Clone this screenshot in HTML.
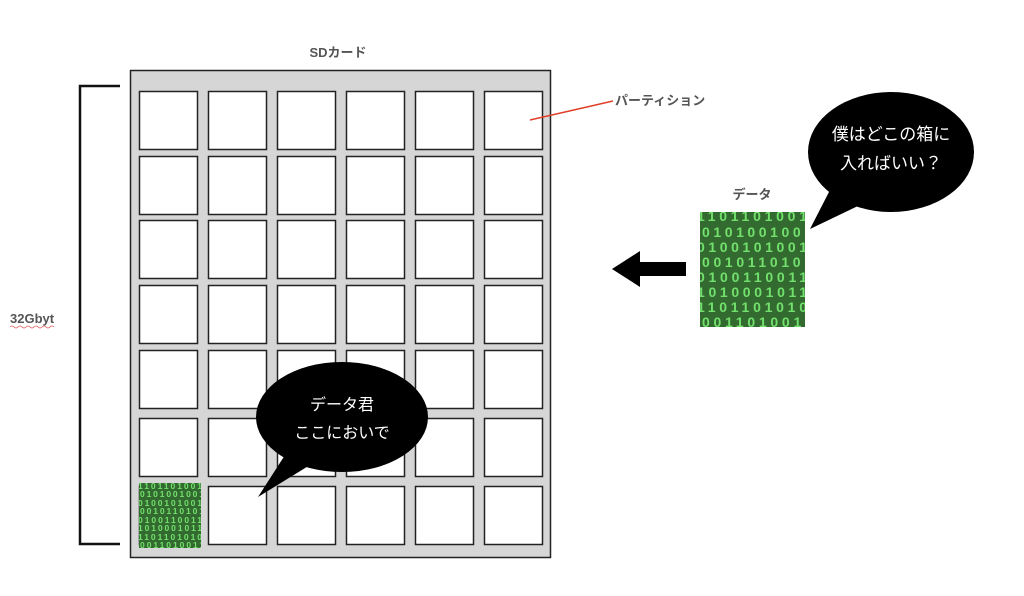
<!DOCTYPE html>
<html><head><meta charset="utf-8"><style>
body{margin:0;background:#fff;}
svg{display:block;font-family:"Liberation Sans","Noto Sans CJK JP",sans-serif;}
</style></head><body>
<svg width="1024" height="596" viewBox="0 0 1024 596">
<defs>
<pattern id="bin" patternUnits="userSpaceOnUse" x="700" y="212" width="105" height="115">
<rect width="105" height="115" fill="#336a30"/>
<g fill="#72e06c" font-family="Liberation Sans,sans-serif" font-weight="bold" font-size="14" lengthAdjust="spacing">
<text x="-3" y="9" textLength="110">1101101001</text>
<text x="2" y="25" textLength="110">0101001001</text>
<text x="-3" y="40" textLength="110">0100101001</text>
<text x="2" y="55" textLength="110">0010110101</text>
<text x="-3" y="70" textLength="110">0100110011</text>
<text x="-3" y="85" textLength="110">1010001011</text>
<text x="-3" y="100" textLength="110">1101101010</text>
<text x="2" y="115" textLength="110">0011010011</text>
</g>
</pattern>
<pattern id="bin2" patternUnits="userSpaceOnUse" x="139" y="483" width="62" height="65">
<rect width="62" height="65" fill="#336a30"/>
<g fill="#72e06c" font-family="Liberation Sans,sans-serif" font-weight="bold" font-size="8.5">
<text x="-1" y="6" textLength="64">1101101001</text>
<text x="1" y="14" textLength="64">0101001001</text>
<text x="-1" y="23" textLength="64">0100101001</text>
<text x="1" y="31" textLength="64">0010110101</text>
<text x="-1" y="40" textLength="64">0100110011</text>
<text x="-1" y="48" textLength="64">1010001011</text>
<text x="-1" y="57" textLength="64">1101101010</text>
<text x="1" y="65" textLength="64">0011010011</text>
</g>
</pattern>
</defs>
<text x="338" y="57" font-size="13" font-weight="bold" fill="#555" text-anchor="middle">SDカード</text>
<rect x="130.5" y="70.5" width="420" height="487" fill="#d6d6d6" stroke="#222" stroke-width="1.5"/>
<g fill="#fff" stroke="#222" stroke-width="1.5">
<g id="row">
<rect x="139.5" y="91.5" width="58" height="58"/>
<rect x="208.5" y="91.5" width="58" height="58"/>
<rect x="277.5" y="91.5" width="58" height="58"/>
<rect x="346.5" y="91.5" width="58" height="58"/>
<rect x="415.5" y="91.5" width="58" height="58"/>
<rect x="484.5" y="91.5" width="58" height="58"/>
</g>
<use href="#row" y="65"/>
<use href="#row" y="129"/>
<use href="#row" y="194"/>
<use href="#row" y="259"/>
<use href="#row" y="327"/>
<use href="#row" y="395"/>
</g>
<rect x="139" y="483" width="62" height="65" fill="url(#bin2)"/>
<path d="M120 86 H80 V544 H120" fill="none" stroke="#111" stroke-width="2.5"/>
<text x="10" y="323" font-size="13" font-weight="bold" fill="#555">32Gbyt</text>
<path d="M10 327 q2 -2 4 0 t4 0 t4 0 t4 0 t4 0 t4 0 t4 0 t4 0 t4 0 t4 0 t4 0" fill="none" stroke="#e06060" stroke-width="0.8"/>
<line x1="530" y1="120" x2="613" y2="101" stroke="#e0402a" stroke-width="1.5"/>
<text x="615" y="105" font-size="13" font-weight="bold" fill="#555">パーティション</text>
<text x="752" y="199" font-size="13" font-weight="bold" fill="#555" text-anchor="middle">データ</text>
<rect x="700" y="212" width="105" height="115" fill="url(#bin)"/>
<polygon points="612,269 640,251 640,262 686,262 686,276 640,276 640,287" fill="#000"/>
<ellipse cx="891" cy="152" rx="83" ry="60" fill="#000"/>
<polygon points="810,229 830,190 860,205" fill="#000"/>
<text x="891" y="140" font-size="17" fill="#fff" text-anchor="middle">僕はどこの箱に</text>
<text x="891" y="169" font-size="17" fill="#fff" text-anchor="middle">入ればいい？</text>
<ellipse cx="342" cy="417" rx="86" ry="55" fill="#000"/>
<polygon points="258,497 285,455 310,465" fill="#000"/>
<text x="342" y="410" font-size="16" fill="#fff" text-anchor="middle">データ君</text>
<text x="342" y="438" font-size="16" fill="#fff" text-anchor="middle">ここにおいで</text>
</svg>
</body></html>
